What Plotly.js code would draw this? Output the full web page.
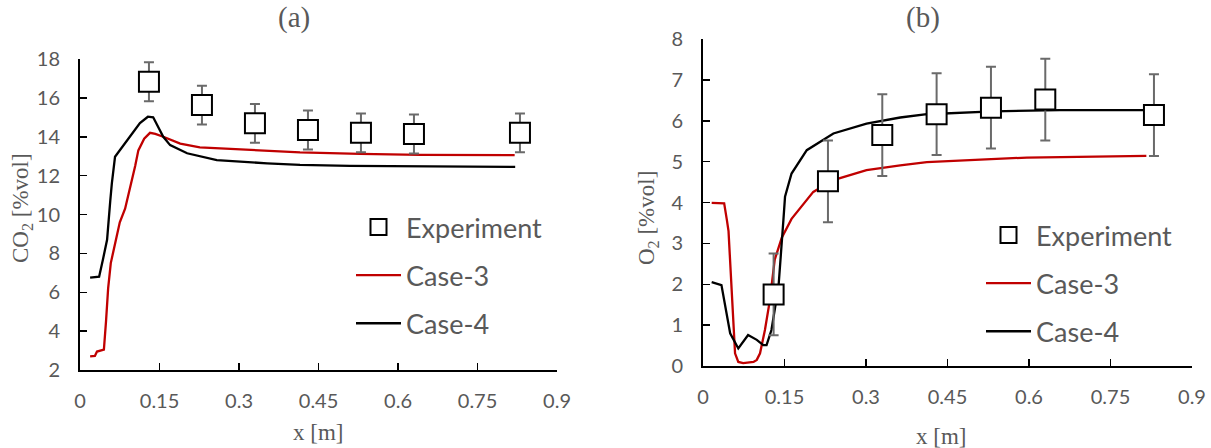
<!DOCTYPE html>
<html>
<head>
<meta charset="utf-8">
<script src="https://cdn.plot.ly/plotly-3.0.1.min.js"></script>
<style>html,body{margin:0;padding:0;background:#fff;}#chart{width:1211px;height:448px;}</style>
</head>
<body>
<div id="chart"></div>
<script>
// ---- data ----
const xTickVals = [0, 0.15, 0.3, 0.45, 0.6, 0.75, 0.9];
const xTickText = ['0', '0.15', '0.3', '0.45', '0.6', '0.75', '0.9'];

const xExp = [0.13, 0.23, 0.33, 0.43, 0.53, 0.63, 0.83];
const co2Exp = [16.83, 15.63, 14.69, 14.35, 14.2, 14.14, 14.2];
const co2Err = [1, 1, 1, 1, 1, 1, 1];
const o2Exp = [1.75, 4.52, 5.65, 6.16, 6.32, 6.52, 6.14];
const o2Err = [1, 1, 1, 1, 1, 1, 1];

const co2Case3X = [0.019, 0.028, 0.032, 0.038, 0.045, 0.049, 0.053, 0.058, 0.066, 0.075, 0.085, 0.096, 0.104, 0.110, 0.121, 0.132, 0.142, 0.157, 0.189, 0.226, 0.302, 0.415, 0.528, 0.642, 0.82];
const co2Case3Y = [2.7, 2.72, 2.95, 3.0, 3.05, 4.5, 6.2, 7.5, 8.5, 9.6, 10.3, 11.5, 12.5, 13.3, 13.9, 14.2, 14.15, 14.0, 13.65, 13.45, 13.35, 13.2, 13.12, 13.07, 13.05];

const co2Case4X = [0.019, 0.036, 0.043, 0.051, 0.057, 0.060, 0.066, 0.088, 0.113, 0.128, 0.138, 0.157, 0.170, 0.202, 0.258, 0.353, 0.415, 0.509, 0.685, 0.821];
const co2Case4Y = [6.75, 6.8, 7.66, 8.7, 10.7, 11.6, 12.97, 13.8, 14.7, 15.03, 15.0, 14.0, 13.57, 13.15, 12.8, 12.63, 12.55, 12.5, 12.46, 12.45];

const o2Case3X = [0.016, 0.039, 0.044, 0.047, 0.059, 0.065, 0.074, 0.093, 0.099, 0.105, 0.114, 0.123, 0.132, 0.145, 0.163, 0.203, 0.240, 0.301, 0.363, 0.412, 0.596, 0.816];
const o2Case3Y = [3.99, 3.98, 3.57, 3.3, 0.31, 0.1, 0.07, 0.1, 0.15, 0.31, 0.88, 1.6, 2.6, 3.14, 3.6, 4.26, 4.55, 4.79, 4.91, 4.99, 5.1, 5.14];

const o2Case4X = [0.016, 0.034, 0.050, 0.065, 0.083, 0.099, 0.111, 0.117, 0.126, 0.139, 0.148, 0.151, 0.163, 0.191, 0.240, 0.301, 0.363, 0.412, 0.534, 0.657, 0.816];
const o2Case4Y = [2.05, 1.98, 0.8, 0.43, 0.76, 0.64, 0.51, 0.51, 0.88, 1.94, 3.57, 4.14, 4.71, 5.28, 5.69, 5.93, 6.08, 6.16, 6.23, 6.26, 6.26];

// ---- styles ----
const RED = '#C00000';
const GREY = '#595959';
const TICKFONT = {family: 'Lato, "Noto Sans", sans-serif', size: 20, color: GREY};
const LEGFONT = {family: 'Lato, "Noto Sans", sans-serif', size: 27, color: GREY};
const SERIF = {family: '"Liberation Serif", "DejaVu Serif", serif', size: 23, color: GREY};

function expTrace(y, err, xa, ya, leg) {
  return {
    x: xExp, y: y, xaxis: xa, yaxis: ya, legend: leg,
    type: 'scatter', mode: 'markers', name: 'Experiment',
    legendgroup: leg + 'a', legendrank: 1,
    marker: {symbol: 'square', size: 20, color: '#ffffff', line: {color: '#000', width: 2}},
    error_y: {type: 'data', array: err, visible: true, color: '#6a6a6a', thickness: 2, width: 5}
  };
}
function lineTrace(x, y, color, name, xa, ya, leg, rank) {
  return {
    x: x, y: y, xaxis: xa, yaxis: ya, legend: leg,
    type: 'scatter', mode: 'lines', name: name,
    legendgroup: leg + name, legendrank: rank,
    line: {color: color, width: 2.3}
  };
}

const data = [
  lineTrace(co2Case3X, co2Case3Y, RED, 'Case-3', 'x', 'y', 'legend', 2),
  lineTrace(co2Case4X, co2Case4Y, '#000', 'Case-4', 'x', 'y', 'legend', 3),
  expTrace(co2Exp, co2Err, 'x', 'y', 'legend'),
  lineTrace(o2Case3X, o2Case3Y, RED, 'Case-3', 'x2', 'y2', 'legend2', 2),
  lineTrace(o2Case4X, o2Case4Y, '#000', 'Case-4', 'x2', 'y2', 'legend2', 3),
  expTrace(o2Exp, o2Err, 'x2', 'y2', 'legend2')
];

function xAxis(domain, anchor) {
  return {
    domain: domain, anchor: anchor, range: [0, 0.9],
    tickvals: xTickVals, ticktext: xTickText,
    showline: true, linecolor: '#000', linewidth: 2,
    ticks: 'inside', ticklen: 7, tickwidth: 1.5, tickcolor: '#000',
    showgrid: false, zeroline: false, tickfont: TICKFONT,
    ticklabelstandoff: 12, fixedrange: true
  };
}
function yAxis(domain, anchor, range, dtick) {
  return {
    domain: domain, anchor: anchor, range: range, dtick: dtick, tick0: 0,
    showline: true, linecolor: '#000', linewidth: 2,
    ticks: 'inside', ticklen: 7, tickwidth: 1.5, tickcolor: '#000',
    showgrid: false, zeroline: false, tickfont: TICKFONT,
    ticklabelstandoff: 14, fixedrange: true
  };
}

const legendBase = {
  font: LEGFONT, bgcolor: 'rgba(0,0,0,0)', borderwidth: 0,
  traceorder: 'grouped', tracegroupgap: 10, itemwidth: 45,
  xanchor: 'left', yanchor: 'top'
};

const layout = {
  width: 1211, height: 448,
  margin: {l: 0, r: 0, t: 0, b: 0, autoexpand: false},
  paper_bgcolor: '#fff', plot_bgcolor: '#fff',
  showlegend: true,
  xaxis: xAxis([0.0661, 0.4600], 'y'),
  yaxis: yAxis([0.1741, 0.8683], 'x', [2, 18], 2),
  xaxis2: xAxis([0.5805, 0.9843], 'y2'),
  yaxis2: yAxis([0.1830, 0.9129], 'x2', [0, 8], 1),
  legend: Object.assign({}, legendBase, {x: 351 / 1211, y: 1 - 203 / 448}),
  legend2: Object.assign({}, legendBase, {x: 981 / 1211, y: 1 - 211 / 448}),
  annotations: [
    {text: '(a)', xref: 'paper', yref: 'paper', x: 0.2428, y: 1 - 17 / 448, xanchor: 'center', yanchor: 'middle', showarrow: false, font: {family: SERIF.family, size: 29, color: GREY}},
    {text: '(b)', xref: 'paper', yref: 'paper', x: 0.7622, y: 1 - 17 / 448, xanchor: 'center', yanchor: 'middle', showarrow: false, font: {family: SERIF.family, size: 29, color: GREY}},
    {text: 'CO<sub>2</sub> [%vol]', xref: 'paper', yref: 'paper', x: 22/1211, y: 1 - 208/448, xanchor: 'center', yanchor: 'middle', textangle: -90, showarrow: false, font: SERIF},
    {text: 'O<sub>2</sub> [%vol]', xref: 'paper', yref: 'paper', x: 648/1211, y: 1 - 218/448, xanchor: 'center', yanchor: 'middle', textangle: -90, showarrow: false, font: SERIF},
    {text: 'x [m]', xref: 'paper', yref: 'paper', x: 318/1211, y: 1 - 432/448, xanchor: 'center', yanchor: 'middle', showarrow: false, font: SERIF},
    {text: 'x [m]', xref: 'paper', yref: 'paper', x: 941/1211, y: 1 - 436/448, xanchor: 'center', yanchor: 'middle', showarrow: false, font: SERIF}
  ]
};

Plotly.newPlot('chart', data, layout, {displayModeBar: false, staticPlot: true});
</script>
</body>
</html>
